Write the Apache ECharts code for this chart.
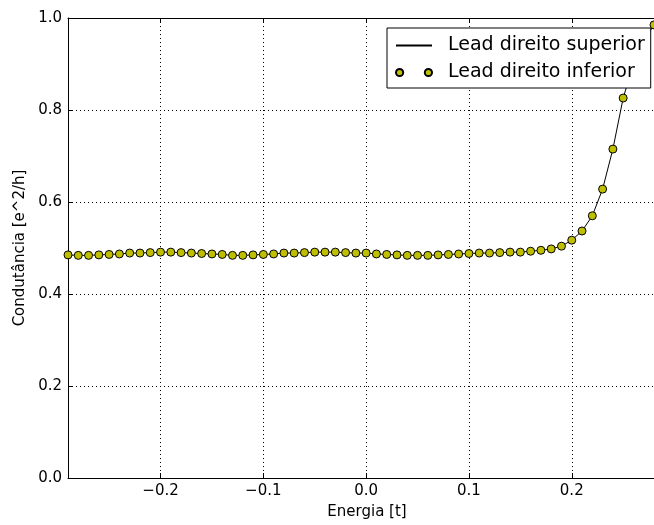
<!DOCTYPE html>
<html>
<head>
<meta charset="utf-8">
<script src="https://cdn.jsdelivr.net/npm/echarts@6/dist/echarts.min.js"></script>
<style>html,body{margin:0;padding:0;background:#fff}#c{width:654px;height:525px}</style>
</head>
<body>
<div id="c"></div>
<script>
const energia = [-0.29,-0.28,-0.27,-0.26,-0.25,-0.24,-0.23,-0.22,-0.21,-0.20,-0.19,-0.18,-0.17,-0.16,-0.15,-0.14,-0.13,-0.12,-0.11,-0.10,-0.09,-0.08,-0.07,-0.06,-0.05,-0.04,-0.03,-0.02,-0.01,0.00,0.01,0.02,0.03,0.04,0.05,0.06,0.07,0.08,0.09,0.10,0.11,0.12,0.13,0.14,0.15,0.16,0.17,0.18,0.19,0.20,0.21,0.22,0.23,0.24,0.25,0.26,0.27,0.28];
const superior = [0.485,0.484,0.484,0.485,0.486,0.487,0.489,0.489,0.490,0.491,0.491,0.490,0.489,0.488,0.487,0.486,0.484,0.484,0.485,0.486,0.487,0.489,0.489,0.490,0.491,0.491,0.491,0.490,0.489,0.489,0.487,0.486,0.485,0.484,0.484,0.484,0.485,0.486,0.487,0.488,0.489,0.489,0.490,0.491,0.491,0.493,0.495,0.498,0.504,0.517,0.537,0.570,0.628,0.715,0.826,0.900,0.950,0.985];
const inferior = superior.slice();
const xTicks = [-0.2,-0.1,0.0,0.1,0.2];
const yTicks = [0.0,0.2,0.4,0.6,0.8,1.0];

const fmt = v => v.toFixed(1).replace('-', '\u2212');
const FONT = 'DejaVu Sans';
const chart = echarts.init(document.getElementById('c'));
const gridLine = {show:true, lineStyle:{color:'#000', width:1, type:[1,3]}};
chart.setOption({
  animation:false,
  backgroundColor:'#fff',
  textStyle:{fontFamily:FONT},
  grid:{left:68, top:18, right:0, bottom:47, containLabel:false},
  xAxis:[{
    type:'value', min:-0.29, max:0.28, position:'bottom',
    name:'Energia [t]', nameLocation:'middle', nameGap:27,
    nameTextStyle:{fontFamily:FONT, fontSize:15, color:'#000', padding:[0,0,0,12]},
    axisLine:{show:true, onZero:false, lineStyle:{color:'#000', width:1}},
    axisTick:{show:true, inside:true, length:5, lineStyle:{color:'#000'}, customValues:xTicks},
    axisLabel:{show:true, margin:6, fontFamily:FONT, fontSize:15, color:'#000', customValues:xTicks, formatter:fmt},
    splitLine:gridLine
  },{
    type:'value', min:-0.29, max:0.28, position:'top',
    axisLine:{show:true, onZero:false, lineStyle:{color:'#000', width:1}},
    axisTick:{show:true, inside:true, length:5, lineStyle:{color:'#000'}, customValues:xTicks},
    axisLabel:{show:false}, splitLine:{show:false}
  }],
  yAxis:[{
    type:'value', min:0, max:1, interval:0.2, position:'left',
    name:'Condutância [e^2/h]', nameLocation:'middle', nameGap:38,
    nameTextStyle:{fontFamily:FONT, fontSize:15, color:'#000'},
    axisLine:{show:true, onZero:false, lineStyle:{color:'#000', width:1}},
    axisTick:{show:true, inside:true, length:5, lineStyle:{color:'#000'}},
    axisLabel:{show:true, margin:6, fontFamily:FONT, fontSize:15, color:'#000', formatter:fmt},
    splitLine:gridLine
  }],
  legend:{
    left:387, top:28, orient:'vertical',
    padding:[8,6,6,8], itemGap:8, itemWidth:36, itemHeight:8,
    borderColor:'#000', borderWidth:1, borderRadius:0, backgroundColor:'#fff',
    textStyle:{fontFamily:FONT, fontSize:19, color:'#000', padding:[0,0,0,11]},
    data:[
      {name:'Lead direito superior', itemStyle:{opacity:0}},
      {name:'Lead direito inferior', icon:'path://M0,5a5,5 0 1,0 10,0a5,5 0 1,0 -10,0M40,5a5,5 0 1,0 10,0a5,5 0 1,0 -10,0'}
    ]
  },
  series:[{
    name:'Lead direito superior', type:'line',
    data:energia.map((x,i)=>[x, superior[i]]),
    symbol:'none', showSymbol:false,
    lineStyle:{color:'#000', width:1}, itemStyle:{color:'#000'}, z:2
  },{
    name:'Lead direito inferior', type:'line',
    data:energia.map((x,i)=>[x, inferior[i]]),
    symbol:'circle', symbolSize:8, showSymbol:true,
    lineStyle:{width:0, opacity:0},
    itemStyle:{color:'#bfbf00', borderColor:'#000', borderWidth:1}, z:3
  }]
});
</script>
</body>
</html>
